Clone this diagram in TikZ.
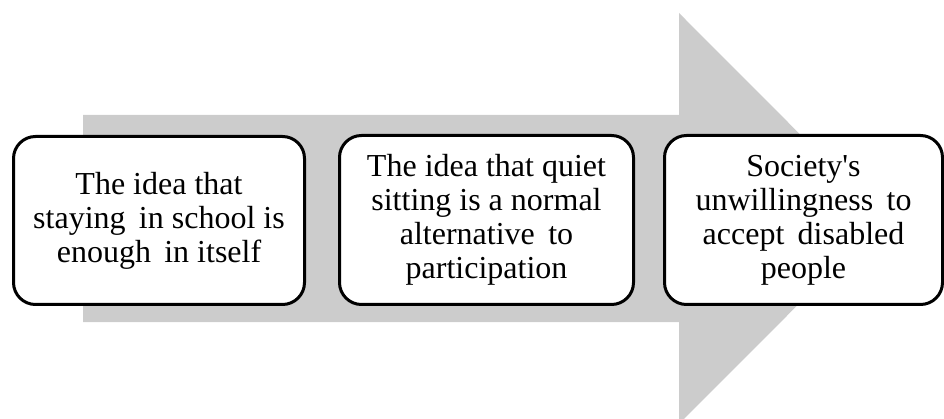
\documentclass[tikz,border=0pt]{standalone}
\usepackage{fontspec}
\setmainfont{Liberation Serif}
\begin{document}
\begin{tikzpicture}[x=1pt,y=-1pt,
  stepbox/.style={draw=black, line width=3pt, rounded corners=22pt, fill=white,
    align=center, font=\fontsize{32}{34}\selectfont, inner sep=0pt, anchor=north west},
  arrowfill/.style={fill=black!20, draw=none}]
\useasboundingbox (0,0) rectangle (944,419);
\fill[arrowfill] (83,115) -- (679,115) -- (679,13) -- (884,218.5) -- (679,424) -- (679,322) -- (83,322) -- cycle;
\node[stepbox, minimum width=291pt, minimum height=168pt] (b1) at (12,135)
  {The idea that\\staying\, in school is\\enough\, in itself};
\node[stepbox, minimum width=294pt, minimum height=169pt] (b2) at (338,134)
  {The idea that quiet\\sitting is a normal\\alternative\, to\\participation};
\node[stepbox, minimum width=278pt, minimum height=169pt] (b3) at (663,134)
  {Society\textquotesingle s\\unwillingness\, to\\accept\, disabled\\people};
\end{tikzpicture}
\end{document}
